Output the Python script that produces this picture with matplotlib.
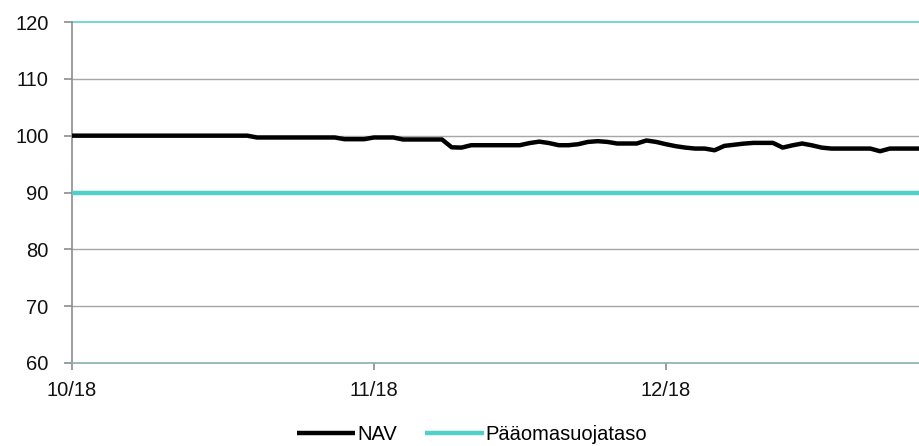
import matplotlib
matplotlib.use("Agg")
import matplotlib.pyplot as plt
import pandas as pd

plt.rcParams['font.family'] = ['Liberation Sans', 'DejaVu Sans']

# Data
nav_dates = ["2018-10-01", "2018-10-19", "2018-10-20", "2018-10-28", "2018-10-29",
             "2018-10-31", "2018-11-01", "2018-11-03", "2018-11-04", "2018-11-08",
             "2018-11-09", "2018-11-10", "2018-11-11", "2018-11-16", "2018-11-17",
             "2018-11-18", "2018-11-19", "2018-11-20", "2018-11-21", "2018-11-22",
             "2018-11-23", "2018-11-24", "2018-11-25", "2018-11-26", "2018-11-28",
             "2018-11-29", "2018-11-30", "2018-12-01", "2018-12-02", "2018-12-03",
             "2018-12-04", "2018-12-05", "2018-12-06", "2018-12-07", "2018-12-08",
             "2018-12-09", "2018-12-10", "2018-12-12", "2018-12-13", "2018-12-14",
             "2018-12-15", "2018-12-16", "2018-12-17", "2018-12-18", "2018-12-22",
             "2018-12-23", "2018-12-24", "2018-12-27"]
nav_values = [100.0, 100.0, 99.68, 99.68, 99.38,
              99.38, 99.68, 99.68, 99.33, 99.33,
              97.95, 97.9, 98.32, 98.32, 98.7,
              98.95, 98.7, 98.32, 98.32, 98.5,
              98.9, 99.03, 98.9, 98.62, 98.62,
              99.15, 98.9, 98.5, 98.15, 97.9,
              97.73, 97.73, 97.43, 98.2, 98.4,
              98.6, 98.73, 98.73, 97.9, 98.3,
              98.62, 98.3, 97.9, 97.73, 97.73,
              97.26, 97.73, 97.73]
floor_dates = ["2018-10-01", "2018-12-27"]
floor_values = [90, 90]

x_start, x_end = "2018-10-01", "2018-12-27"
y_ticks = [60, 70, 80, 90, 100, 110, 120]
x_tick_dates = ["2018-10-01", "2018-11-01", "2018-12-01"]
x_tick_labels = ["10/18", "11/18", "12/18"]

W, H = 919, 446
fig = plt.figure(figsize=(W / 100, H / 100), dpi=100)
ax = fig.add_axes([72 / W, 1 - 363 / H, (919 - 72) / W, (363 - 22) / H])

nav_x = pd.to_datetime(nav_dates)
floor_x = pd.to_datetime(floor_dates)

grid_color = '#a6a6a6'
for y in y_ticks[1:-1]:
    ax.axhline(y, color=grid_color, lw=1.0, zorder=1)
ax.axhline(120, color='#5fd3cc', lw=1.2, zorder=1, clip_on=False)

ax.plot(floor_x, floor_values, color='#4fd0c8', lw=3.2, label='Pääomasuojataso',
        zorder=3, solid_capstyle='butt')
ax.plot(nav_x, nav_values, color='black', lw=3.2, label='NAV', zorder=4,
        solid_capstyle='butt', solid_joinstyle='round')

ax.set_xlim(pd.Timestamp(x_start), pd.Timestamp(x_end))
ax.set_ylim(60, 120)
ax.set_yticks(y_ticks)
ax.set_xticks(pd.to_datetime(x_tick_dates))
ax.set_xticklabels(x_tick_labels)

for s in ['top', 'right']:
    ax.spines[s].set_visible(False)
ax.spines['left'].set_color('#8c8c8c')
ax.spines['left'].set_linewidth(1.2)
ax.spines['bottom'].set_color('#8aaeae')
ax.spines['bottom'].set_linewidth(1.2)

fs = 14.5
ax.tick_params(axis='y', length=6, width=1.2, color='#8c8c8c', pad=11,
               labelsize=fs, labelcolor='#111111')
ax.tick_params(axis='x', length=5, width=1.2, color='#8c8c8c', pad=8,
               labelsize=fs, labelcolor='#111111')

handles, labels = ax.get_legend_handles_labels()
order = [1, 0]
leg = fig.legend([handles[i] for i in order], [labels[i] for i in order],
                 loc='center', bbox_to_anchor=(472 / W, 1 - 435 / H), ncol=2,
                 frameon=False, fontsize=fs, handlelength=2.9, handletextpad=0.1,
                 columnspacing=1.4, borderpad=0)

fig.savefig('out.png', dpi=100)
